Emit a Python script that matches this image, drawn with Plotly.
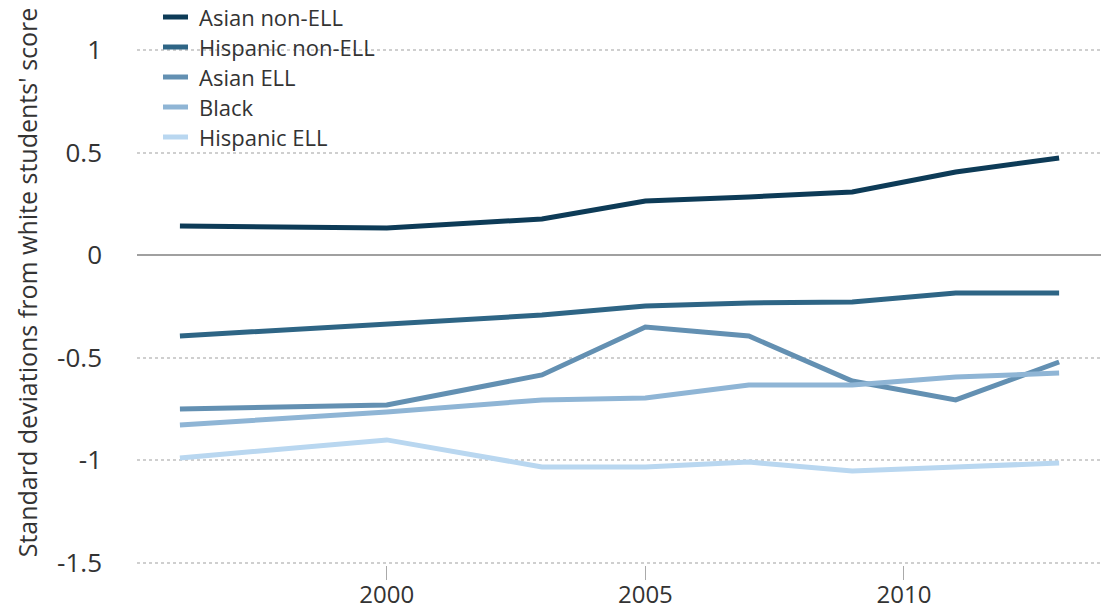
import plotly.graph_objects as go

years = [1996, 2000, 2003, 2005, 2007, 2009, 2011, 2013]
series_names = ["Asian non-ELL", "Hispanic non-ELL", "Asian ELL", "Black", "Hispanic ELL"]
asian_non_ell = [0.141, 0.132, 0.176, 0.263, 0.283, 0.307, 0.405, 0.473]
hispanic_non_ell = [-0.395, -0.337, -0.293, -0.249, -0.234, -0.229, -0.185, -0.185]
asian_ell = [-0.751, -0.732, -0.585, -0.351, -0.395, -0.615, -0.707, -0.522]
black = [-0.829, -0.766, -0.707, -0.698, -0.634, -0.634, -0.595, -0.576]
hispanic_ell = [-0.99, -0.902, -1.034, -1.034, -1.01, -1.054, -1.034, -1.015]
colors = ["#0d3b57", "#2e6585", "#6390b2", "#8fb5d5", "#b9d7f0"]
y_ticks = [1, 0.5, 0, -0.5, -1, -1.5]
y_tick_text = ["1", "0.5", "0", "-0.5", "-1", "-1.5"]
x_ticks = [2000, 2005, 2010]

FONT = "Open Sans"
TEXT = "#333333"
W, H = 1101, 609
ML, MB = 137, 44
PW, PH = W - ML, H - MB
ZERO_PX, UNIT_PX = 255, 205

fig = go.Figure()
all_vals = [asian_non_ell, hispanic_non_ell, asian_ell, black, hispanic_ell]
for name, vals, col in zip(series_names, all_vals, colors):
    fig.add_trace(go.Scatter(x=years, y=vals, name=name, mode="lines",
                             line=dict(color=col, width=5), showlegend=False))

# legend drawn as layout decorations (paper coordinates)
shapes = []
annotations = []
for i, (name, col) in enumerate(zip(series_names, colors)):
    py = 17 + i * 30
    yp = (PH - py) / PH
    shapes.append(dict(type="line", xref="paper", yref="paper",
                       x0=(163 - ML) / PW, x1=(188 - ML) / PW, y0=yp, y1=yp,
                       line=dict(color=col, width=5)))
    annotations.append(dict(text=name, xref="paper", yref="paper",
                            x=(198 - ML) / PW, y=yp, xanchor="left", yanchor="middle",
                            showarrow=False, borderpad=0,
                            font=dict(family=FONT, size=22, color=TEXT)))

fig.update_layout(
    width=W, height=H,
    margin=dict(l=ML, r=0, t=0, b=MB, autoexpand=False),
    paper_bgcolor="white", plot_bgcolor="white",
    font=dict(family=FONT, size=25, color=TEXT),
    showlegend=False,
    shapes=shapes,
    annotations=annotations,
    xaxis=dict(range=[1995.17, 2013.81], tickvals=x_ticks, automargin=False,
               ticks="outside", ticklen=14, tickcolor="#aaaaaa", tickwidth=1,
               ticklabelstandoff=-6,
               showgrid=False, zeroline=False, showline=False,
               tickfont=dict(family=FONT, size=24, color=TEXT)),
    yaxis=dict(range=[-(PH - ZERO_PX) / UNIT_PX, ZERO_PX / UNIT_PX], automargin=False,
               tickvals=y_ticks, ticktext=y_tick_text,
               showgrid=True, gridcolor="#cfcfcf", griddash="dot", gridwidth=2,
               zeroline=True, zerolinecolor="#a0a0a0", zerolinewidth=2,
               ticklabelstandoff=34,
               title=dict(text="Standard deviations from white students' score",
                          font=dict(family=FONT, size=25, color=TEXT), standoff=12),
               tickfont=dict(family=FONT, size=26, color=TEXT)),
)
fig.write_html("out.html")
